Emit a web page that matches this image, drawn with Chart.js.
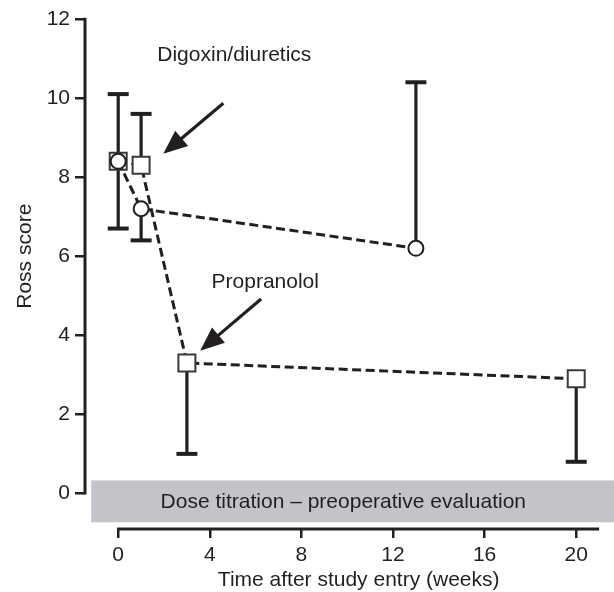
<!DOCTYPE html>
<html><head><meta charset="utf-8">
<script src="https://cdn.jsdelivr.net/npm/chart.js@4"></script>
<style>html,body{margin:0;padding:0;background:#fff}</style>
</head><body>
<canvas id="c" width="614" height="592"></canvas>
<script>
// ---- data ----
const xTicks = [0, 4, 8, 12, 16, 20];
const yTicks = [0, 2, 4, 6, 8, 10, 12];
const digoxinX = [0, 1, 13];
const digoxinY = [8.4, 7.2, 6.2];
const digoxinHigh = [10.1, null, 10.4];
const digoxinLow = [6.7, 6.4, null];
const propX = [0, 1, 3, 20];
const propY = [8.4, 8.3, 3.3, 2.9];
const propHigh = [null, 9.6, null, null];
const propLow = [null, null, 1.0, 0.8];
const seriesNames = ['Digoxin/diuretics', 'Propranolol'];
const bandLabel = 'Dose titration \u2013 preoperative evaluation';
const xTitle = 'Time after study entry (weeks)';
const yTitle = 'Ross score';

// ---- style ----
const ink = '#231f20';
const FONT = '21px "Liberation Sans", Arial, Helvetica, sans-serif';
const tickFont = {family: '"Liberation Sans", Arial, Helvetica, sans-serif', size: 21};

const annotations = [
  {text: seriesNames[0], x: 5.07, y: 11.09, from: [4.59, 9.87], to: [1.97, 8.59]},
  {text: seriesNames[1], x: 6.42, y: 5.35, from: [6.24, 4.92], to: [3.58, 3.61]}
];

function drawArrow(ctx, x1, y1, x2, y2) {
  const ang = Math.atan2(y2 - y1, x2 - x1);
  const hl = 24, hw = 10;
  const bx = x2 - hl * Math.cos(ang), by = y2 - hl * Math.sin(ang);
  ctx.beginPath();
  ctx.moveTo(x1, y1);
  ctx.lineTo(bx + 3 * Math.cos(ang), by + 3 * Math.sin(ang));
  ctx.lineWidth = 3.2;
  ctx.strokeStyle = ink;
  ctx.stroke();
  ctx.beginPath();
  ctx.moveTo(x2, y2);
  ctx.lineTo(bx + hw * Math.sin(ang), by - hw * Math.cos(ang));
  ctx.lineTo(bx - hw * Math.sin(ang), by + hw * Math.cos(ang));
  ctx.closePath();
  ctx.fillStyle = ink;
  ctx.fill();
}

const extras = {
  id: 'extras',
  beforeDatasetsDraw(chart) {
    const {ctx, chartArea, scales: {x, y}} = chart;
    ctx.save();
    // grey band
    const bx0 = x.getPixelForValue(-1.18), bx1 = chartArea.right;
    const by0 = y.getPixelForValue(0.33), by1 = y.getPixelForValue(-0.73);
    ctx.fillStyle = '#c2c4ca';
    ctx.fillRect(bx0, by0, bx1 - bx0, by1 - by0);
    ctx.fillStyle = ink;
    ctx.font = FONT;
    ctx.textAlign = 'center';
    ctx.textBaseline = 'middle';
    ctx.fillText(bandLabel, x.getPixelForValue(9.83), (by0 + by1) / 2 + 1);
    // axis lines
    ctx.strokeStyle = ink;
    ctx.lineWidth = 3;
    ctx.beginPath();
    ctx.moveTo(chartArea.left, y.getPixelForValue(12) - 1.2);
    ctx.lineTo(chartArea.left, y.getPixelForValue(0) + 1.2);
    ctx.stroke();
    ctx.beginPath();
    ctx.moveTo(x.getPixelForValue(0) - 1.2, chartArea.bottom);
    ctx.lineTo(x.getPixelForValue(21), chartArea.bottom);
    ctx.stroke();
    // error bars
    const bars = (xs, ys, hi, lo) => {
      xs.forEach((xv, i) => {
        const px = x.getPixelForValue(xv), py = y.getPixelForValue(ys[i]);
        [hi[i], lo[i]].forEach(end => {
          if (end === null) return;
          const pe = y.getPixelForValue(end);
          ctx.lineWidth = 3.2;
          ctx.beginPath(); ctx.moveTo(px, py); ctx.lineTo(px, pe); ctx.stroke();
          ctx.lineWidth = 4;
          ctx.beginPath(); ctx.moveTo(px - 10.5, pe); ctx.lineTo(px + 10.5, pe); ctx.stroke();
        });
      });
    };
    bars(propX, propY, propHigh, propLow);
    bars(digoxinX, digoxinY, digoxinHigh, digoxinLow);
    ctx.restore();
  },
  afterDraw(chart) {
    const {ctx, scales: {x, y}} = chart;
    ctx.save();
    ctx.fillStyle = ink;
    ctx.font = FONT;
    ctx.textAlign = 'center';
    ctx.textBaseline = 'middle';
    annotations.forEach(a => {
      ctx.fillText(a.text, x.getPixelForValue(a.x), y.getPixelForValue(a.y));
      drawArrow(ctx, x.getPixelForValue(a.from[0]), y.getPixelForValue(a.from[1]),
                     x.getPixelForValue(a.to[0]), y.getPixelForValue(a.to[1]));
    });
    // axis titles
    ctx.fillStyle = ink;
    ctx.fillText(xTitle, (x.getPixelForValue(0) + x.getPixelForValue(21)) / 2, 580);
    ctx.translate(25, (y.getPixelForValue(0) + y.getPixelForValue(12)) / 2);
    ctx.rotate(-Math.PI / 2);
    ctx.fillText(yTitle, 0, 0);
    ctx.restore();
  }
};

const toPts = (xs, ys) => xs.map((v, i) => ({x: v, y: ys[i]}));

new Chart(document.getElementById('c'), {
  type: 'scatter',
  data: {
    datasets: [
      {
        label: seriesNames[0], data: toPts(digoxinX, digoxinY), showLine: true,
        borderColor: ink, borderWidth: 3, borderDash: [9, 4.5],
        pointStyle: 'circle', pointRadius: 7.5, pointBackgroundColor: '#fff',
        pointBorderColor: ink, pointBorderWidth: 2, order: 0
      },
      {
        label: seriesNames[1], data: toPts(propX, propY), showLine: true,
        borderColor: ink, borderWidth: 3, borderDash: [9, 4.5],
        pointStyle: 'rect', pointRadius: 12, pointBackgroundColor: '#fff',
        pointBorderColor: '#3a3a3a', pointBorderWidth: 2, order: 1
      }
    ]
  },
  options: {
    responsive: false, animation: false, devicePixelRatio: 1,
    layout: {autoPadding: false, padding: {top: 19, left: 0, right: 0, bottom: 0}},
    plugins: {legend: {display: false}, tooltip: {enabled: false}},
    scales: {
      x: {
        type: 'linear', min: -1.45, max: 21.65,
        afterBuildTicks: s => { s.ticks = xTicks.map(v => ({value: v})); },
        afterFit: s => { s.height = 63; },
        grid: {display: true, drawOnChartArea: false, drawTicks: true, tickLength: 9, color: ink, lineWidth: 2.5},
        border: {display: false},
        ticks: {font: tickFont, color: ink, padding: 5, maxRotation: 0, autoSkip: false}
      },
      y: {
        type: 'linear', min: -0.9, max: 12,
        afterBuildTicks: s => { s.ticks = yTicks.map(v => ({value: v})); },
        afterFit: s => { s.width = 85; },
        grid: {display: true, drawOnChartArea: false, drawTicks: true, tickLength: 10, color: ink, lineWidth: 2.5},
        border: {display: false},
        ticks: {font: tickFont, color: ink, padding: 5, autoSkip: false}
      }
    }
  },
  plugins: [extras]
});
</script>
</body></html>
